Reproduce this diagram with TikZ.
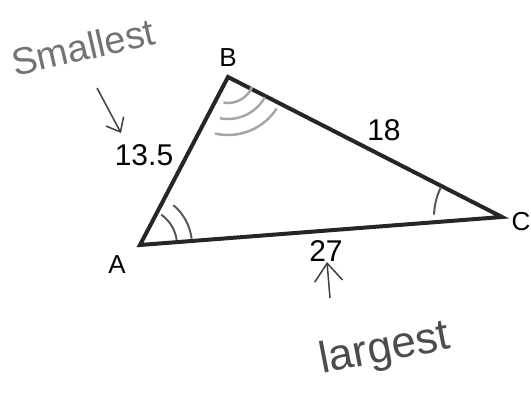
\documentclass[tikz,border=0pt]{standalone}
\usepackage{fontspec}
\setmainfont{Liberation Sans}
\usetikzlibrary{arrows.meta,positioning}

\begin{document}
\begin{tikzpicture}[x=1pt,y=1pt,
      side/.style={line width=4pt,draw=black!85,line join=miter},
      vlabel/.style={font=\fontsize{26}{26}\selectfont,inner sep=0pt},
      slabel/.style={font=\fontsize{30}{30}\selectfont,inner sep=0pt},
      note/.style={font=\fontsize{38}{38}\selectfont,inner sep=0pt,text=black!55},
      hand/.style={line width=1.5pt,draw=black!75},
      angmark/.style={line width=2pt,draw=black!65},
      angfaint/.style={line width=2.5pt,draw=black!35},
    ]
    \useasboundingbox (0,0) rectangle (531,393);

    % vertices
    \coordinate (A) at (140,148);
    \coordinate (B) at (228,316);
    \coordinate (C) at (502,176);

    \draw[side] (A) -- (B) -- (C) -- cycle;

    % vertex labels
    \node[vlabel] (lA) at (117,128) {A};
    \node[vlabel] (lB) at (228,335) {B};
    \node[vlabel] (lC) at (521,171) {C};

    % side lengths
    \node[slabel] (sAB) at (144,238) {13.5};
    \node[slabel] (sBC) at (384,263) {18};
    \node[slabel] (sAC) at (326,142) {27};

    % angle marks
    \draw[angmark] ([shift={(8:37)}]A) arc[start angle=8,end angle=55,radius=37];
    \draw[angmark] ([shift={(7:52)}]A) arc[start angle=7,end angle=50,radius=52];
    \draw[angfaint] ([shift={(-100:26)}]B) arc[start angle=-100,end angle=-22,radius=26];
    \draw[angfaint] ([shift={(-101:42)}]B) arc[start angle=-101,end angle=-29,radius=42];
    \draw[angfaint] ([shift={(-103:58)}]B) arc[start angle=-103,end angle=-33,radius=58];
    \draw[angmark] ([shift={(178:68)}]C) arc[start angle=178,end angle=154,radius=68];

    % notes
    \node[note,rotate=13] (small) at (83,346) {Smallest};
    \node[note,rotate=11,text=black!70,font=\fontsize{44}{44}\selectfont] (large) at (385,43) {largest};

    \coordinate (s1) at (97,305);
    \coordinate (s2) at (121,260);
    \draw[hand,-{Straight Barb[length=12pt,width=20pt]}] (s1) -- (s2);
    \coordinate (l1) at (330,95);
    \coordinate (l2) at (327,131);
    \draw[hand,-{Straight Barb[length=18pt,width=28pt]}] (l1) -- (l2);
  \end{tikzpicture}
\end{document}
